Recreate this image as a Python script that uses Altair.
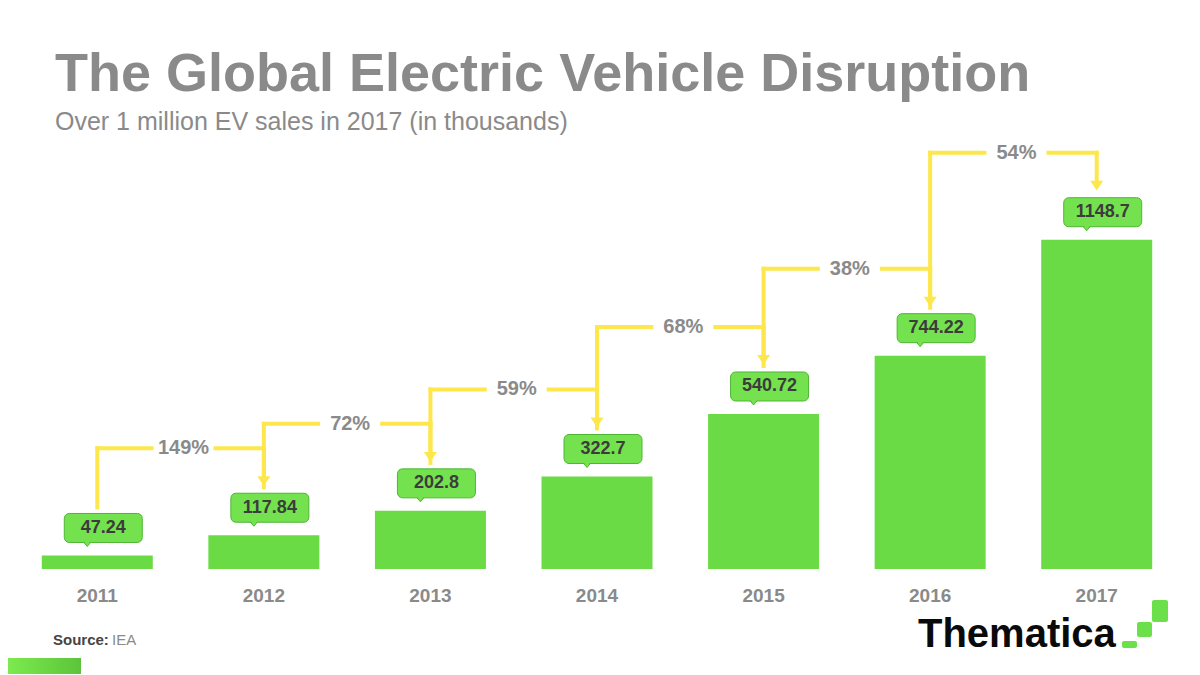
import altair as alt
import pandas as pd

# ---- data ----
years = ["2011", "2012", "2013", "2014", "2015", "2016", "2017"]
sales = [47.24, 117.84, 202.8, 322.7, 540.72, 744.22, 1148.7]
labels = ["47.24", "117.84", "202.8", "322.7", "540.72", "744.22", "1148.7"]
growth = ["149%", "72%", "59%", "68%", "38%", "54%"]

title_text = "The Global Electric Vehicle Disruption"
subtitle_text = "Over 1 million EV sales in 2017 (in thousands)"

FONT = "Liberation Sans"
BAR = "#6ADB45"
BOX = "#74E24E"
BOX_STROKE = "#4FB535"
YELLOW = "#FDE74C"
GRAY = "#8A8A8A"

bars = pd.DataFrame({"i": list(range(len(years))), "year": years,
                     "sales": sales, "label": labels})
steps = pd.DataFrame({
    "i0": list(range(len(growth))),
    "i1": [k + 1 for k in range(len(growth))],
    "mid": [k + 0.5 for k in range(len(growth))],
    "v0": sales[:-1],
    "v1": sales[1:],
    "pct": growth,
})

W, H = 1166, 430
xscale = alt.Scale(domain=[-0.5, len(years) - 0.5], nice=False, zero=False, padding=0)
yscale = alt.Scale(domain=[0, 1500], nice=False)


def X(f):
    return alt.X(f"{f}:Q", scale=xscale, axis=None)


def Y(f):
    return alt.Y(f"{f}:Q", scale=yscale, axis=None)


bar_layer = alt.Chart(bars).mark_bar(width=111, color=BAR).encode(
    x=X("i"), y=Y("sales"))

year_labels = alt.Chart(bars).mark_text(
    font=FONT, fontWeight="bold", fontSize=19, color=GRAY, align="center",
    baseline="alphabetic").encode(x=X("i"), y=alt.value(H + 33), text="year:N")

rule_kw = dict(color=YELLOW, strokeWidth=4, strokeCap="square")
LEVEL = -87

up = alt.Chart(steps).mark_rule(yOffset=-48, y2Offset=LEVEL, **rule_kw).encode(
    x=X("i0"), y=Y("v0"), y2="v1:Q")
hleft = alt.Chart(steps).mark_rule(yOffset=LEVEL, x2Offset=-29, **rule_kw).encode(
    x=X("i0"), x2="mid:Q", y=Y("v1"))
hright = alt.Chart(steps).mark_rule(yOffset=LEVEL, xOffset=35, **rule_kw).encode(
    x=X("mid"), x2="i1:Q", y=Y("v1"))
down = alt.Chart(steps).mark_rule(yOffset=LEVEL, y2Offset=-56, **rule_kw).encode(
    x=X("i1"), y=Y("v1"), y2="v1:Q")
heads = alt.Chart(steps).mark_point(
    shape="M-1,-0.75L1,-0.75L0,0.75Z", filled=True, color=YELLOW, opacity=1,
    size=169, yOffset=-54).encode(x=X("i1"), y=Y("v1"))
pct = alt.Chart(steps).mark_text(
    font=FONT, fontWeight="bold", fontSize=20, color=GRAY, baseline="middle",
    align="center", xOffset=3, yOffset=LEVEL).encode(
    x=X("mid"), y=Y("v1"), text="pct:N")

ptr_shape = "M-1,-0.6L1,-0.6L0,0.6Z"
ptr1 = alt.Chart(bars).mark_point(
    shape=ptr_shape, filled=True, fill=BOX, stroke=BOX_STROKE, strokeWidth=1,
    opacity=1, size=100, xOffset=-10, yOffset=-12).encode(x=X("i"), y=Y("sales"))
box = alt.Chart(bars).mark_bar(
    width=78, cornerRadius=5, fill=BOX, stroke=BOX_STROKE, strokeWidth=1,
    xOffset=6, yOffset=-42, y2Offset=-13).encode(x=X("i"), y=Y("sales"), y2="sales:Q")
ptr2 = alt.Chart(bars).mark_point(
    shape=ptr_shape, filled=True, fill=BOX, strokeWidth=0, opacity=1,
    size=64, xOffset=-10, yOffset=-12.5).encode(x=X("i"), y=Y("sales"))
box_text = alt.Chart(bars).mark_text(
    font=FONT, fontWeight="bold", fontSize=18, color="#3C3C3C",
    baseline="middle", align="center", xOffset=6, yOffset=-27.5).encode(
    x=X("i"), y=Y("sales"), text="label:N")

one = pd.DataFrame({"k": [0]})
title = alt.Chart(one).mark_text(
    font=FONT, fontWeight="bold", fontSize=54, color=GRAY, align="left",
    baseline="alphabetic", text=title_text).encode(x=alt.value(41), y=alt.value(-48))
subtitle = alt.Chart(one).mark_text(
    font=FONT, fontSize=25, color=GRAY, align="left",
    baseline="alphabetic", text=subtitle_text).encode(x=alt.value(41), y=alt.value(-9))
src1 = alt.Chart(one).mark_text(
    font=FONT, fontWeight="bold", fontSize=15, color="#444444", align="left",
    baseline="alphabetic", text="Source:").encode(x=alt.value(39), y=alt.value(506))
src2 = alt.Chart(one).mark_text(
    font=FONT, fontSize=15, color="#8A8A8A", align="left",
    baseline="alphabetic", text="IEA").encode(x=alt.value(98), y=alt.value(506))
logo = alt.Chart(one).mark_text(
    font=FONT, fontWeight="bold", fontSize=40, color="#0A0A0A", align="left",
    baseline="alphabetic", text="Thematica").encode(x=alt.value(904), y=alt.value(508))
LG = "#6CE04A"
sq1 = alt.Chart(one).mark_rect(color=LG, cornerRadius=2).encode(
    x=alt.value(1108), x2=alt.value(1123), y=alt.value(502), y2=alt.value(509))
sq2 = alt.Chart(one).mark_rect(color=LG, cornerRadius=2).encode(
    x=alt.value(1123), x2=alt.value(1138), y=alt.value(483), y2=alt.value(498))
sq3 = alt.Chart(one).mark_rect(color=LG, cornerRadius=2).encode(
    x=alt.value(1138), x2=alt.value(1154), y=alt.value(461), y2=alt.value(483))
strip = alt.Chart(one).mark_rect(
    color=alt.Gradient(gradient="linear", x1=0, x2=1, y1=0, y2=0,
                       stops=[alt.GradientStop(color="#7DEA4E", offset=0),
                              alt.GradientStop(color="#5CC43A", offset=1)])
).encode(x=alt.value(-6), x2=alt.value(67), y=alt.value(519), y2=alt.value(535))

chart = alt.layer(
    bar_layer, year_labels, up, hleft, hright, down, heads, pct,
    ptr1, box, ptr2, box_text,
    title, subtitle, src1, src2, logo, sq1, sq2, sq3, strip,
).properties(
    width=W, height=H,
    autosize=alt.AutoSizeParams(type="none"),
    padding={"left": 6, "top": 131, "right": 12, "bottom": 106},
    background="white",
).configure_view(stroke=None)

chart.save("out.html", embed_options={"renderer": "svg", "actions": False})
